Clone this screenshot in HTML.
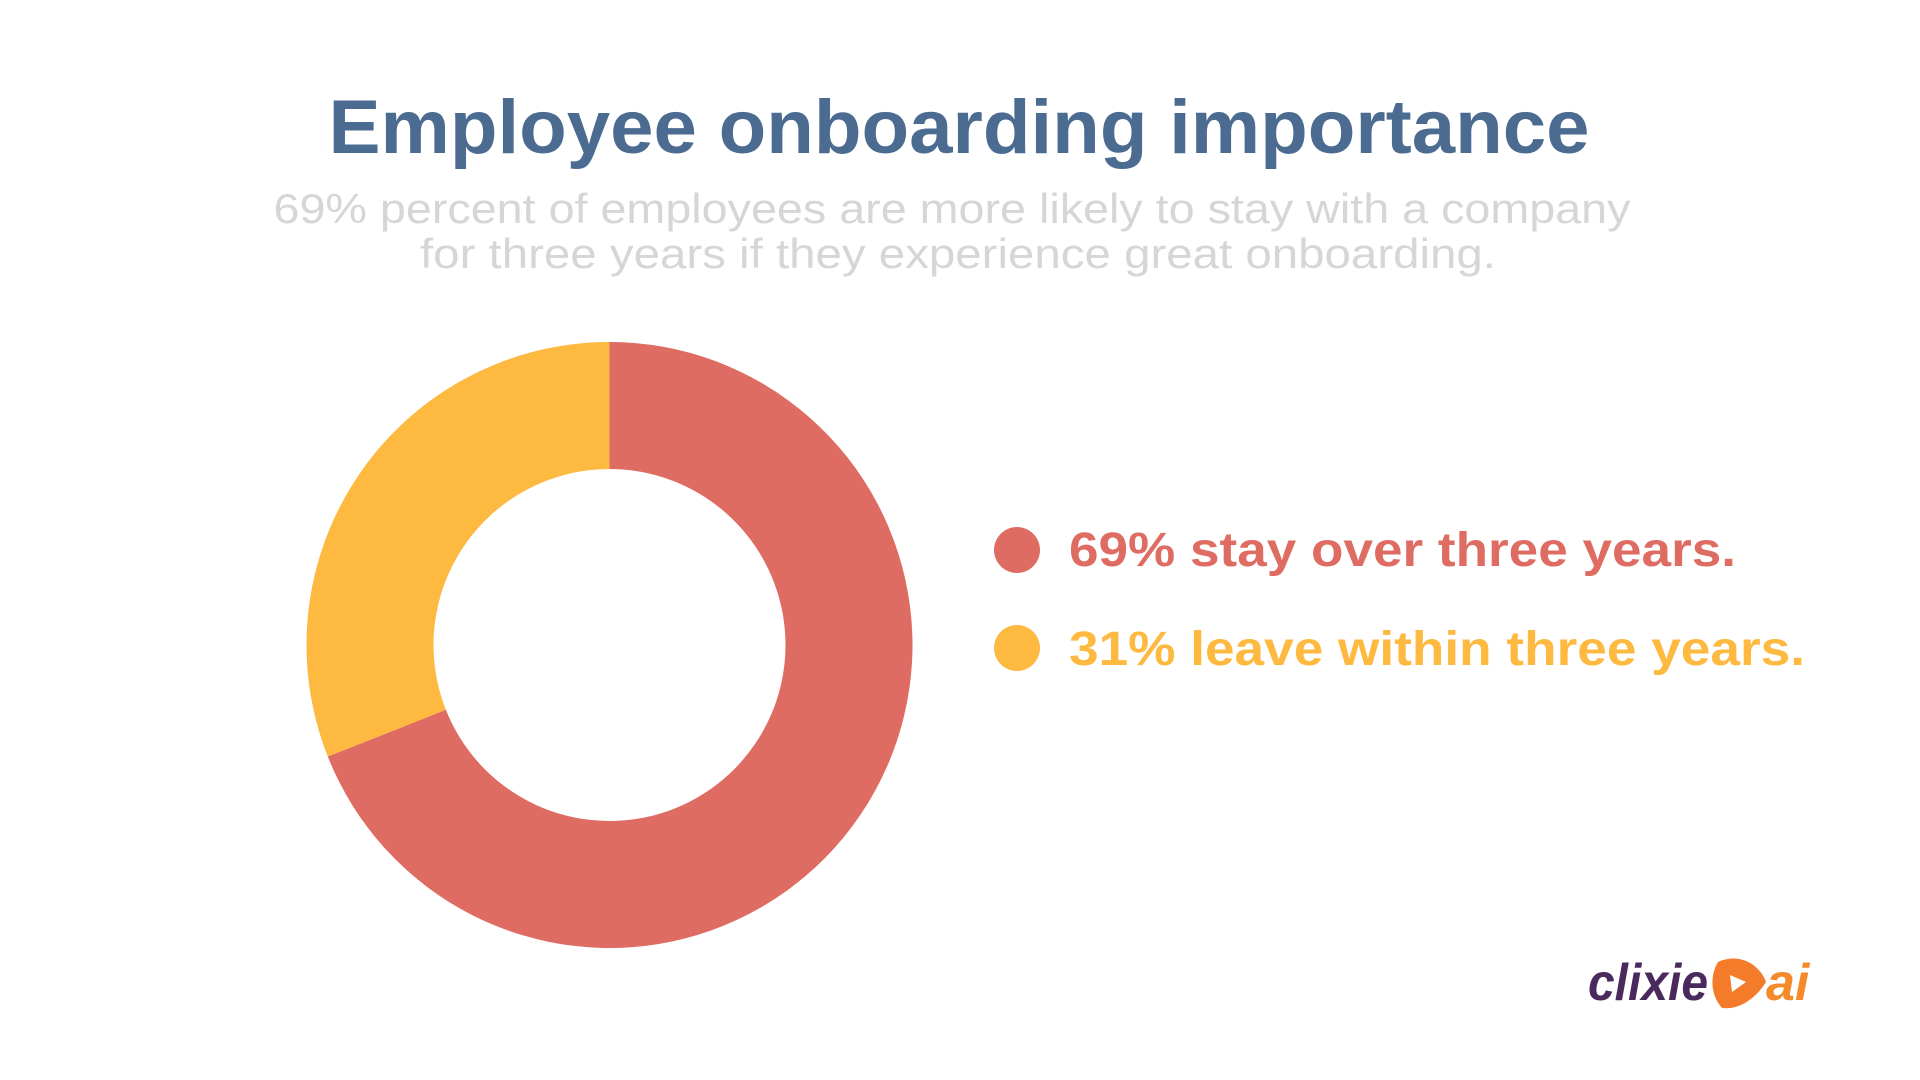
<!DOCTYPE html>
<html><head><meta charset="utf-8"><style>
html,body{margin:0;padding:0;background:#fff;width:1920px;height:1080px;overflow:hidden}
svg{display:block}
text{font-family:"Liberation Sans",sans-serif}
</style></head><body>
<svg id="chart" width="1920" height="1080" viewBox="0 0 1920 1080">
<text x="959" y="153" text-anchor="middle" font-size="76" font-weight="bold" fill="#4B6B91" textLength="1261" lengthAdjust="spacingAndGlyphs">Employee onboarding importance</text>
<text x="952" y="223" text-anchor="middle" font-size="42" fill="#D6D6D6" textLength="1357" lengthAdjust="spacingAndGlyphs">69% percent of employees are more likely to stay with a company</text>
<text x="958" y="268" text-anchor="middle" font-size="42" fill="#D6D6D6" textLength="1076" lengthAdjust="spacingAndGlyphs">for three years if they experience great onboarding.</text>
<g id="slices"></g>
<g>
<circle cx="1017" cy="550" r="23" fill="#DF6C62"/>
<text x="1069" y="566" font-size="48" font-weight="bold" fill="#DF6C62" textLength="667" lengthAdjust="spacingAndGlyphs">69% stay over three years.</text>
<circle cx="1017" cy="648" r="23" fill="#FDB940"/>
<text x="1069" y="665" font-size="48" font-weight="bold" fill="#FDB940" textLength="736" lengthAdjust="spacingAndGlyphs">31% leave within three years.</text>
</g>
<g>
<text x="1588" y="1000" font-size="52" font-weight="bold" font-style="italic" fill="#4A2A5C" textLength="120" lengthAdjust="spacingAndGlyphs">clixie</text>
<path d="M1718 962 C1740 952,1760 965,1766 982 C1756 998,1740 1010,1722 1008 C1710 995,1710 975,1718 962Z" fill="#F47B2A"/>
<path d="M1730 975 L1746 982 L1732 992 Z" fill="#fff"/>
<text x="1766" y="1000" font-size="52" font-weight="bold" font-style="italic" fill="#F58A2A">ai</text>
</g>
</svg>
<script>
const categories = ["Stay over three years", "Leave within three years"];
const values = [69, 31];
const colors = ["#DF6C62", "#FDB940"];
const cx = 609.5, cy = 645, R = 303, r = 176;
const g = document.getElementById('slices');
const total = values.reduce((a,b)=>a+b,0);
function pt(rad, a){ return [cx + rad*Math.sin(a), cy - rad*Math.cos(a)]; }
let start = 0;
values.forEach((v,i)=>{
  const end = start + v/total*2*Math.PI;
  const large = (end-start) > Math.PI ? 1 : 0;
  const [x1,y1]=pt(R,start),[x2,y2]=pt(R,end),[x3,y3]=pt(r,end),[x4,y4]=pt(r,start);
  const p = document.createElementNS('http://www.w3.org/2000/svg','path');
  p.setAttribute('d',`M${x1} ${y1} A${R} ${R} 0 ${large} 1 ${x2} ${y2} L${x3} ${y3} A${r} ${r} 0 ${large} 0 ${x4} ${y4} Z`);
  p.setAttribute('fill',colors[i]);
  
  
  g.appendChild(p);
  start = end;
});
</script>
</body></html>
